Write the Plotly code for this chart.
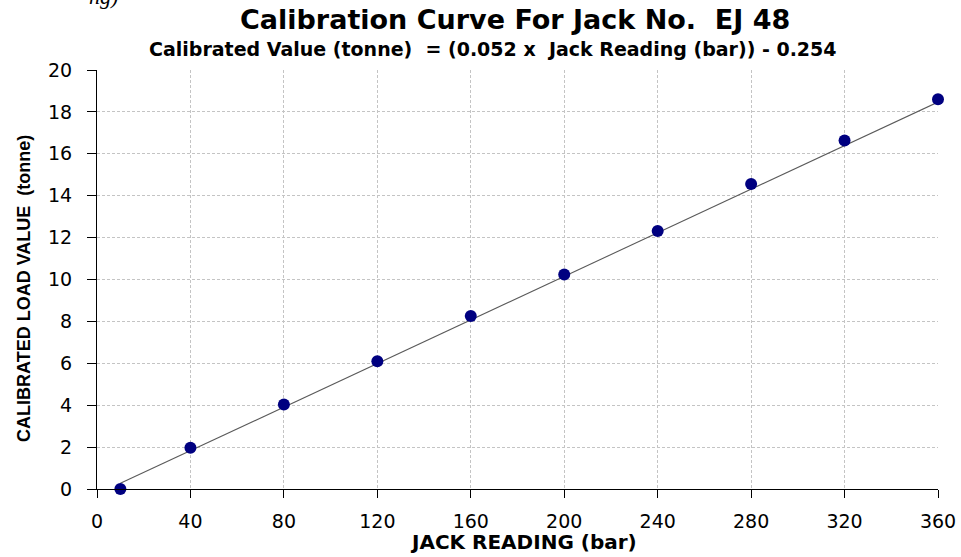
import plotly.graph_objects as go

# Data
jack_reading = [10, 40, 80, 120, 160, 200, 240, 280, 320, 360]
calibrated_load = [0, 1.97, 4.03, 6.10, 8.26, 10.24, 12.32, 14.56, 16.64, 18.60]

# Calibration line endpoints
line_x = [10, 360]
line_y = [0.27, 18.47]

x_ticks = [0, 40, 80, 120, 160, 200, 240, 280, 320, 360]
y_ticks = [0, 2, 4, 6, 8, 10, 12, 14, 16, 18, 20]

title_text = "Calibration Curve For Jack No.  EJ 48"
subtitle_text = "Calibrated Value (tonne)  = (0.052 x  Jack Reading (bar)) - 0.254"
x_title = "JACK READING (bar)"
y_title = "CALIBRATED LOAD VALUE  (tonne)"

W, H = 961, 557
ML, MR, MT, MB = 97, 23, 70, 68
PW = W - ML - MR
PH = H - MT - MB

fig = go.Figure()
fig.add_trace(go.Scatter(
    x=line_x, y=line_y, mode="lines",
    line=dict(color="#5a5a5a", width=1.1),
    hoverinfo="skip", showlegend=False, cliponaxis=False,
))
fig.add_trace(go.Scatter(
    x=jack_reading, y=calibrated_load, mode="markers",
    marker=dict(color="#000080", size=12, symbol="circle",
                line=dict(width=0)),
    showlegend=False, cliponaxis=False,
))

wide = "DejaVu Sans, Verdana, sans-serif"
arial = "Liberation Sans, Arial, sans-serif"

fig.update_layout(
    width=W, height=H,
    margin=dict(l=ML, r=MR, t=MT, b=MB, autoexpand=False),
    paper_bgcolor="white", plot_bgcolor="white",
    font=dict(family=wide, color="black"),
    xaxis=dict(
        range=[0, 360], tickvals=x_ticks, ticktext=[str(v) for v in x_ticks],
        showgrid=True, gridcolor="#c4c4c4", griddash="3px,2px", gridwidth=1,
        showline=True, linecolor="black", linewidth=1.2,
        ticks="outside", ticklen=8, tickcolor="black", tickwidth=1,
        ticklabelstandoff=7,
        tickfont=dict(size=19, family=wide, color="black"),
        zeroline=False, fixedrange=True, automargin=False,
    ),
    yaxis=dict(
        range=[0, 20], tickvals=y_ticks, ticktext=[str(v) for v in y_ticks],
        showgrid=True, gridcolor="#c4c4c4", griddash="3px,2px", gridwidth=1,
        showline=True, linecolor="black", linewidth=1.2,
        ticks="outside", ticklen=9, tickcolor="black", tickwidth=1,
        ticklabelstandoff=11,
        tickfont=dict(size=19, family=wide, color="black"),
        zeroline=False, fixedrange=True, automargin=False,
    ),
    annotations=[
        dict(text="<b>" + title_text + "</b>", xref="paper", yref="paper",
             x=(515 - ML) / PW, y=1 + (MT - 37) / PH, xanchor="center", yanchor="bottom",
             showarrow=False, font=dict(size=27, family=wide, color="black")),
        dict(text="<b>" + subtitle_text + "</b>", xref="paper", yref="paper",
             x=(493 - ML) / PW, y=1 + (MT - 62) / PH, xanchor="center", yanchor="bottom",
             showarrow=False, font=dict(size=19, family=wide, color="black")),
        dict(text="<b>" + x_title + "</b>", xref="paper", yref="paper",
             x=(523 - ML) / PW, y=-(528 - (H - MB)) / PH, xanchor="center", yanchor="top",
             showarrow=False, font=dict(size=20, family=wide, color="black")),
        dict(text="<b>" + y_title + "</b>", xref="paper", yref="paper",
             x=(24 - ML) / PW, y=(H - MB - 289) / PH, xanchor="center", yanchor="middle",
             textangle=-90, showarrow=False,
             font=dict(size=18, family=arial, color="black")),
        dict(text="<i>ng)</i>", xref="paper", yref="paper",
             x=(120 - ML) / PW, y=1 + (MT - 11) / PH, xanchor="right", yanchor="bottom",
             showarrow=False, font=dict(size=22, family="Liberation Serif, serif", color="black")),
    ],
)

fig.write_html("out.html", config={"displayModeBar": False},
               post_script="document.body.style.margin='0';document.body.style.padding='0';")
